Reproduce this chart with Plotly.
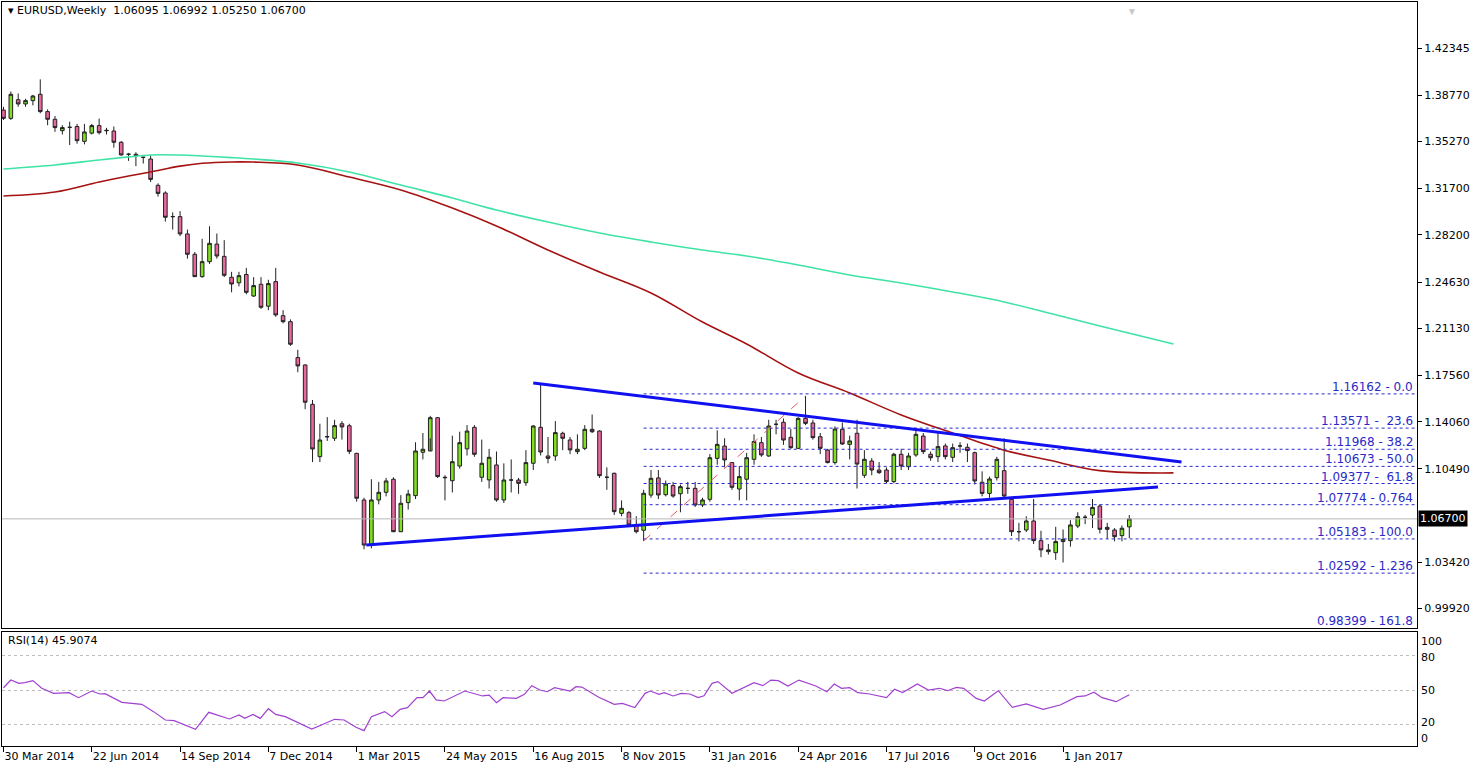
import plotly.graph_objects as go

# ---- weekly candles (week index 0 = 30 Mar 2014) ----
opens = [1.3765,1.3702,1.3843,1.3811,1.3836,1.3884,1.3753,1.3695,1.3609,1.3634,1.3640,1.3528,1.3590,1.3647,1.3608,1.3606,1.3521,1.3430,1.3430,1.3407,
1.3394,1.3195,1.3137,1.2958,1.2958,1.2827,1.2673,1.2504,1.2617,1.2750,1.2657,1.2499,1.2457,1.2520,1.2357,1.2446,1.2280,1.2466,1.2208,1.2163,
1.1891,1.1835,1.1537,1.1141,1.1290,1.1280,1.1390,1.1375,1.1166,1.0813,1.0472,1.0813,1.0871,1.0970,1.0573,1.0793,1.0846,1.1174,1.1184,1.1436,
1.0985,1.0959,1.1070,1.1200,1.1363,1.0985,1.0965,1.1078,1.0813,1.0964,1.0964,1.0944,1.1091,1.1363,1.1146,1.1146,1.1318,1.1267,1.1179,1.1204,
1.1348,1.1335,1.0985,1.1015,1.0712,1.0717,1.0624,1.0584,1.0850,1.0980,1.0853,1.0922,1.0860,1.0901,1.0901,1.0775,1.0818,1.1128,1.1221,1.1096,
1.0896,1.0970,1.1121,1.1247,1.1146,1.1386,1.1401,1.1287,1.1204,1.1431,1.1396,1.1292,1.1191,1.1096,1.1348,1.1234,1.1318,1.1000,1.1108,1.1040,
1.1040,1.0952,1.1159,1.1065,1.1154,1.1297,1.1159,1.1141,1.1222,1.1136,1.1222,1.1212,1.1171,1.0947,1.0863,1.0982,1.1035,1.0818,1.0573,1.0586,
1.0654,1.0505,1.0422,1.0414,1.0498,1.0505,1.0616,1.0682,1.0699,1.0767,1.0606,1.0586,1.0543,1.06095]
highs = [1.3790,1.3905,1.3890,1.3850,1.3880,1.3997,1.3770,1.3720,1.3650,1.3677,1.3660,1.3660,1.3660,1.3700,1.3630,1.3640,1.3530,1.3440,1.3445,1.3410,
1.3420,1.3210,1.3150,1.2990,1.3000,1.2860,1.2690,1.2790,1.2885,1.2830,1.2780,1.2540,1.2540,1.2570,1.2500,1.2500,1.2480,1.2570,1.2250,1.2180,
1.1950,1.1840,1.1570,1.1390,1.1440,1.1420,1.1410,1.1390,1.1170,1.0830,1.0970,1.0950,1.0980,1.0985,1.0850,1.0890,1.1250,1.1320,1.1450,1.1440,
1.1000,1.1300,1.1330,1.1380,1.1380,1.1270,1.1200,1.1180,1.1090,1.1120,1.0980,1.1190,1.1380,1.1699,1.1290,1.1410,1.1330,1.1290,1.1310,1.1380,
1.1460,1.1340,1.1060,1.1020,1.0810,1.0730,1.0690,1.0890,1.1040,1.1040,1.0960,1.0950,1.0930,1.0950,1.0950,1.0830,1.1160,1.1340,1.1280,1.1100,
1.1070,1.1170,1.1310,1.1290,1.1420,1.1420,1.1430,1.1350,1.1440,1.1600,1.1420,1.1320,1.1200,1.1370,1.1400,1.1300,1.1420,1.1190,1.1130,1.1100,
1.1060,1.1170,1.1200,1.1170,1.1360,1.1320,1.1180,1.1320,1.1240,1.1240,1.1250,1.1240,1.1180,1.1030,1.0990,1.1140,1.1280,1.0820,1.0640,1.0690,
1.0820,1.0580,1.0480,1.0610,1.0590,1.0660,1.0720,1.0700,1.0820,1.0780,1.0640,1.0600,1.0620,1.06992]
lows = [1.3690,1.3690,1.3790,1.3790,1.3800,1.3740,1.3650,1.3600,1.3580,1.3500,1.3510,1.3505,1.3580,1.3580,1.3580,1.3480,1.3420,1.3380,1.3340,1.3360,
1.3220,1.3110,1.2920,1.2860,1.2810,1.2640,1.2500,1.2495,1.2600,1.2640,1.2500,1.2385,1.2430,1.2370,1.2350,1.2260,1.2250,1.2200,1.2150,1.1980,
1.1780,1.1500,1.1100,1.1100,1.1260,1.1260,1.1270,1.1160,1.0800,1.0440,1.0447,1.0780,1.0840,1.0570,1.0570,1.0740,1.0820,1.1120,1.1280,1.0980,
1.0810,1.0870,1.1050,1.1150,1.1140,1.0950,1.0900,1.0800,1.0790,1.0870,1.0860,1.0920,1.1040,1.1150,1.1090,1.1110,1.1190,1.1160,1.1160,1.1190,
1.1320,1.0980,1.0890,1.0700,1.0690,1.0610,1.0560,1.0503,1.0830,1.0820,1.0840,1.0830,1.0720,1.0860,1.0760,1.0760,1.0800,1.1080,1.1060,1.0890,
1.0810,1.0810,1.1080,1.1140,1.1140,1.1310,1.1230,1.1200,1.1200,1.1380,1.1270,1.1160,1.1090,1.1080,1.1230,1.1120,1.0900,1.0980,1.1000,1.1010,
1.0940,1.0940,1.1040,1.1040,1.1140,1.1160,1.1110,1.1100,1.1120,1.1100,1.1170,1.1100,1.0930,1.0840,1.0830,1.0960,1.0830,1.0540,1.0500,1.0570,
1.0480,1.0380,1.0400,1.0360,1.0340,1.0460,1.0600,1.0630,1.0600,1.0560,1.0520,1.0500,1.0500,1.0525]
closes = [1.3702,1.3884,1.3811,1.3836,1.3871,1.3753,1.3695,1.3632,1.3632,1.3634,1.3533,1.3599,1.3647,1.3594,1.3611,1.3521,1.3425,1.3430,1.3420,1.3407,
1.3240,1.3134,1.2953,1.2958,1.2827,1.2673,1.2504,1.2617,1.2756,1.2660,1.2514,1.2448,1.2511,1.2385,1.2436,1.2272,1.2451,1.2214,1.2163,1.1992,
1.1828,1.1553,1.1199,1.1267,1.1293,1.1376,1.1366,1.1181,1.0826,1.0472,1.0813,1.0871,1.0957,1.0573,1.0788,1.0858,1.1184,1.1197,1.1436,1.0990,
1.0982,1.1103,1.1247,1.1335,1.1159,1.1091,1.1136,1.0813,1.0964,1.0964,1.0939,1.1096,1.1373,1.1176,1.1128,1.1323,1.1280,1.1192,1.1197,1.1348,
1.1330,1.0997,1.0985,1.0725,1.0750,1.0624,1.0573,1.0864,1.0977,1.0851,1.0934,1.0843,1.0914,1.0901,1.0775,1.0813,1.1133,1.1234,1.1116,1.0909,
1.0990,1.1133,1.1255,1.1154,1.1373,1.1386,1.1267,1.1209,1.1431,1.1393,1.1285,1.1204,1.1096,1.1350,1.1237,1.1260,1.1085,1.1121,1.1040,1.1020,
1.0952,1.1159,1.1070,1.1146,1.1310,1.1179,1.1133,1.1217,1.1141,1.1209,1.1222,1.1187,1.0957,1.0863,1.0972,1.1121,1.0843,1.0573,1.0573,1.0654,
1.0505,1.0435,1.0435,1.0498,1.0515,1.0624,1.0687,1.0682,1.0757,1.0591,1.0591,1.0535,1.0599,1.06700]
weeks = list(range(len(closes)))

# ---- moving averages (sampled) ----
ma_weeks = [0,7,13,17,20,24,27,31,34,40,47,54,61,67,74,81,88,95,101,108,115,122,129,136,142,149,159]
ma_red = [1.3114,1.3144,1.3220,1.3265,1.3296,1.3340,1.3362,1.3372,1.3371,1.3349,1.3258,1.3160,1.3023,1.2887,1.2705,1.2539,1.2380,1.2160,1.1994,1.1774,1.1623,1.1457,1.1320,1.1190,1.1115,1.1035,1.1018]
ma_green = [1.3319,1.3349,1.3387,1.3410,1.3425,1.3424,1.3417,1.3405,1.3394,1.3364,1.3296,1.3197,1.3099,1.3008,1.2917,1.2834,1.2766,1.2705,1.2660,1.2592,1.2516,1.2456,1.2388,1.2312,1.2229,1.2130,1.1994]

# ---- RSI(14) ----
rsi_weeks = [0,1,2.1,2.9,4,5.2,6.8,8.9,10.2,12,13.1,13.8,16.1,18.8,20.4,22,23.2,26.1,27.9,30.7,32,32.8,33.9,34.9,36,37,38.3,41.9,43.2,45,46.3,47.9,49,50,51.8,52.8,53.9,54.9,56.2,57,57.9,58.8,59.9,62.7,65.1,66,67,67.9,69.7,70.8,71.8,72.9,73.9,74.9,77,77.8,78.6,80.9,
83,84.1,85.8,87.2,87.9,89.1,89.8,91,92.1,93.3,94.4,95.2,96.3,97.1,99,100.5,102,103.2,104.3,105.3,106.6,108.1,110.4,111.9,112.9,113.9,115,116.1,117.7,120,121.1,122.2,124.2,125.7,127.2,128.3,129.5,130.5,132.2,133.3,135.2,137.1,139,141.3,143.6,145.9,147,148.2,149.3,151.2,153]
rsi_vals = [52.0,58.7,55.8,56.4,58.2,51.5,47.1,47.7,43.3,49.1,46.5,46.8,39.2,37.5,31.1,23.8,23.2,15.6,30.5,24.7,28.2,25.2,28.7,25.2,33.7,28.7,26.7,15.9,19.4,24.4,23.8,17.4,14.5,26.7,31.1,26.7,33.1,34.6,43.3,43.3,49.1,41.3,40.4,49.1,44.8,45.6,38.9,43.3,42.7,46.2,53.8,50.0,48.5,52.0,49.1,52.9,52.6,43.6,
37.5,38.3,34.6,47.1,49.1,46.2,47.7,44.8,47.1,46.5,43.3,45.0,55.8,57.3,47.1,51.5,56.4,53.8,58.7,58.2,53.5,58.7,53.5,48.5,55.2,51.5,52.0,47.7,46.5,43.3,50.6,47.7,55.2,50.0,51.5,49.4,52.3,51.5,42.7,40.4,49.4,34.9,37.8,33.1,36.9,44.2,44.8,48.0,43.3,39.8,45.9]

# ---- drawn objects ----
fib_levels = [1.16162,1.13571,1.11968,1.10673,1.09377,1.07774,1.05183,1.02592,0.98399]
fib_labels = ["1.16162 - 0.0","1.13571 -  23.6","1.11968 - 38.2","1.10673 - 50.0","1.09377 -  61.8",
              "1.07774 - 0.764","1.05183 - 100.0","1.02592 - 1.236","0.98399 - 161.8"]
fib_start = 87
upper_line_x = [72.0,160.1]; upper_line_y = [1.1699,1.1101]
lower_line_x = [49.3,156.9]; lower_line_y = [1.0472,1.0911]
fib_trend_x = [87,109]; fib_trend_y = [1.0503,1.1600]
last_price = 1.06700

x_tick_weeks = [0,12,24,36,48,60,72,84,96,108,120,132,144]
x_tick_labels = ["30 Mar 2014","22 Jun 2014","14 Sep 2014","7 Dec 2014","1 Mar 2015","24 May 2015","16 Aug 2015",
                 "8 Nov 2015","31 Jan 2016","24 Apr 2016","17 Jul 2016","9 Oct 2016","1 Jan 2017"]
y_ticks = [1.42345,1.38770,1.35270,1.31700,1.28200,1.24630,1.21130,1.17560,1.14060,1.10490,1.03420,0.99920]
rsi_label_vals = [92.0,78.0,50.0,21.2,8.0]
rsi_label_text = ["100","80","50","20","0"]

FONT = "DejaVu Sans"
XR = [-0.2,192.1]

fig = go.Figure()
fig.add_trace(go.Scatter(x=ma_weeks, y=ma_green, mode="lines", line=dict(color="#3FE3A6", width=1.6, shape="spline"), xaxis="x", yaxis="y", hoverinfo="skip"))
fig.add_trace(go.Scatter(x=ma_weeks, y=ma_red, mode="lines", line=dict(color="#A51212", width=1.6, shape="spline"), xaxis="x", yaxis="y", hoverinfo="skip"))
for lv in fib_levels[:-1]:
    fig.add_trace(go.Scatter(x=[fib_start, XR[1]], y=[lv, lv], mode="lines", line=dict(color="#2A2AD0", width=1, dash="dot"), xaxis="x", yaxis="y", hoverinfo="skip"))
fig.add_trace(go.Scatter(x=XR, y=[last_price, last_price], mode="lines", line=dict(color="#B8B8B8", width=1), xaxis="x", yaxis="y"))
fig.add_trace(go.Scatter(x=fib_trend_x, y=fib_trend_y, mode="lines", line=dict(color="#E06060", width=1, dash="dash"), xaxis="x", yaxis="y"))
fig.add_trace(go.Candlestick(x=weeks, open=opens, high=highs, low=lows, close=closes,
    increasing=dict(fillcolor="#80E020", line=dict(color="#202020", width=1)),
    decreasing=dict(fillcolor="#E8679F", line=dict(color="#202020", width=1)),
    whiskerwidth=0, xaxis="x", yaxis="y"))
fig.add_trace(go.Scatter(x=upper_line_x, y=upper_line_y, mode="lines", line=dict(color="#1010F0", width=3), xaxis="x", yaxis="y"))
fig.add_trace(go.Scatter(x=lower_line_x, y=lower_line_y, mode="lines", line=dict(color="#1010F0", width=3), xaxis="x", yaxis="y"))
fig.add_trace(go.Scatter(x=rsi_weeks, y=rsi_vals, mode="lines", line=dict(color="#A040D0", width=1.2), xaxis="x2", yaxis="y2"))

ann = [dict(xref="paper", yref="paper", x=0.003, y=1.0, xanchor="left", yanchor="top",
            text="▾ EURUSD,Weekly  1.06095 1.06992 1.05250 1.06700", showarrow=False, font=dict(family=FONT, size=11, color="black")),
       dict(xref="paper", yref="paper", x=0.003, y=0.153, xanchor="left", yanchor="top",
            text="RSI(14) 45.9074", showarrow=False, font=dict(family=FONT, size=11, color="black")),
       dict(xref="paper", yref="y", x=1, y=last_price, xanchor="left", yanchor="middle", xshift=1,
            text="1.06700", showarrow=False, bgcolor="black", font=dict(family=FONT, size=11, color="white"), borderpad=1),
       dict(xref="x", yref="paper", x=153.3, y=1.0, xanchor="center", yanchor="top", text="▼", showarrow=False,
            font=dict(size=10, color="#C8C8C8"))]
for i, (lv, lb) in enumerate(zip(fib_levels, fib_labels)):
    ann.append(dict(xref="paper", yref=("y" if i < len(fib_levels) - 1 else "paper"),
                    x=1, y=(lv if i < len(fib_levels) - 1 else 0.1586), xanchor="right", yanchor="bottom", xshift=-2, yshift=-2,
                    text=lb, showarrow=False, font=dict(family=FONT, size=12, color="#2A2AC8")))
for v, t in zip(rsi_label_vals, rsi_label_text):
    ann.append(dict(xref="paper", yref="y2", x=1, y=v, xanchor="left", yanchor="middle", xshift=2,
                    text=t, showarrow=False, font=dict(family=FONT, size=11, color="black")))

fig.update_layout(
    width=1480, height=772, margin=dict(l=2, r=63, t=2, b=26, autoexpand=False),
    paper_bgcolor="white", plot_bgcolor="white", showlegend=False,
    annotations=ann,
    xaxis=dict(domain=[0, 1], range=XR, anchor="y", showticklabels=False, showgrid=False, zeroline=False, automargin=False,
               rangeslider=dict(visible=False), showline=True, linecolor="black", linewidth=1, mirror=True, ticks=""),
    yaxis=dict(domain=[0.1586, 1], range=[0.98439, 1.45827], side="right", tickvals=y_ticks, automargin=False,
               ticktext=[f"{v:.5f}" for v in y_ticks], ticks="outside", ticklen=4, tickcolor="black",
               showgrid=False, zeroline=False, showline=True, linecolor="black", linewidth=1, mirror=True,
               tickfont=dict(family=FONT, size=11, color="black")),
    xaxis2=dict(domain=[0, 1], range=XR, anchor="y2", tickvals=x_tick_weeks, ticktext=x_tick_labels, automargin=False,
                ticks="outside", ticklen=5, tickcolor="black", ticklabelposition="outside right",
                showgrid=False, zeroline=False, showline=True, linecolor="black", linewidth=1, mirror=True,
                tickfont=dict(family=FONT, size=11, color="black")),
    yaxis2=dict(domain=[0, 0.1532], range=[1.05, 100.7], side="right", tickvals=[20, 50, 80], automargin=False,
                showticklabels=False, showgrid=True, gridcolor="#BDBDBD", griddash="dot", gridwidth=1,
                zeroline=False, showline=True, linecolor="black", linewidth=1, mirror=True, ticks=""),
)
fig.write_html("out.html", config={"displayModeBar": False},
               post_script="document.body.style.margin='0';document.body.style.overflow='hidden';")
